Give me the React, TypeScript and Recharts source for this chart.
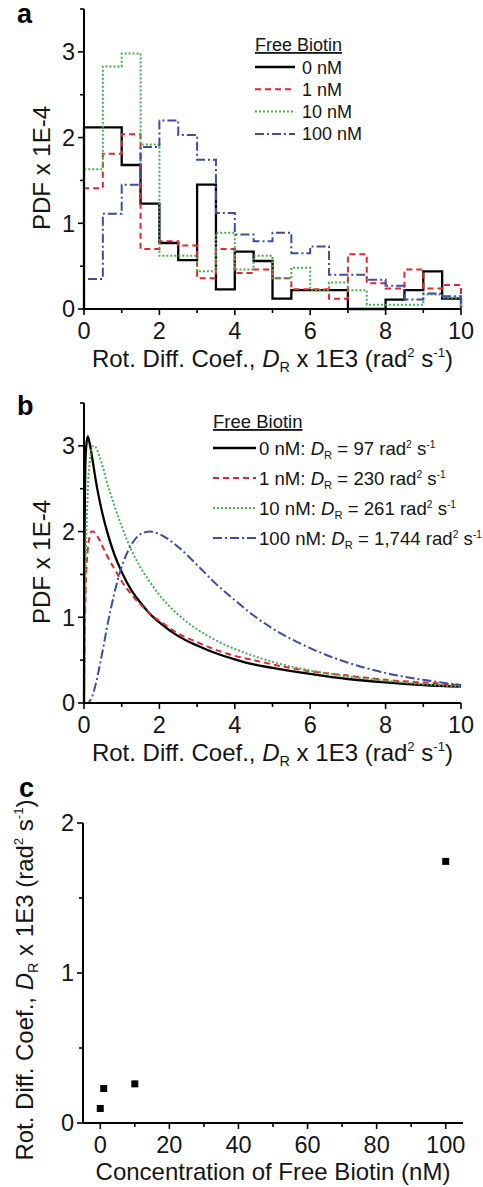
import React from 'react';
import { LineChart, Line, XAxis, YAxis, Legend, Label, ScatterChart, Scatter } from 'recharts';

const FONT = '"Liberation Sans", Arial, Helvetica, sans-serif';
const INK = '#151515';

// Free biotin concentrations (nM) and the fitted modal rotational diffusion coefficients (rad^2 s^-1)
const CONCENTRATIONS_NM = [0, 1, 10, 100];
const MODAL_DR = [97, 230, 261, 1744];

const SERIES_KEYS = ['c0', 'c1', 'c10', 'c100'];
const SERIES_COLORS = ['#000000', '#e4262e', '#45b04d', '#3b4ea2'];
const SERIES_DASH: (string | undefined)[] = [undefined, '6 4', '2 2', '9 3 2 3'];
const SERIES_WIDTH = [2.3, 2, 2, 2];

// Histogram of D_R (x 1E3 rad^2 s^-1), bins of width 0.5
const BIN_LEFT = [0, 0.5, 1, 1.5, 2, 2.5, 3, 3.5, 4, 4.5, 5, 5.5, 6, 6.5, 7, 7.5, 8, 8.5, 9, 9.5];
const BIN_END = 10;
const HIST_0NM = [2.12, 2.12, 1.68, 1.23, 0.77, 0.57, 1.45, 0.23, 0.67, 0.56, 0.12, 0.22, 0.22, 0.22, 0, 0, 0.11, 0.22, 0.44, 0.12];
const HIST_1NM = [1.41, 1.81, 2.04, 0.7, 0.79, 0.74, 0.36, 0.7, 0.42, 0.46, 0.36, 0.23, 0.23, 0.12, 0.64, 0.3, 0.24, 0.46, 0.24, 0.28];
const HIST_10NM = [1.63, 2.83, 2.98, 1.92, 0.62, 0.62, 0.44, 0.89, 0.46, 0.62, 0.36, 0.48, 0.22, 0.31, 0.22, 0.05, 0.05, 0.05, 0.17, 0.13];
const HIST_100NM = [0.35, 1.11, 1.45, 1.89, 2.2, 2.03, 1.74, 1.12, 0.87, 0.79, 0.89, 0.65, 0.73, 0.4, 0.4, 0.34, 0.27, 0.11, 0.18, 0.15];
const HISTS = [HIST_0NM, HIST_1NM, HIST_10NM, HIST_100NM];

// Fitted distributions, sampled along D_R (x 1E3 rad^2 s^-1)
const FIT_X = [0, 0.005, 0.01, 0.02, 0.05, 0.1, 0.15, 0.2, 0.25, 0.3, 0.4, 0.5, 0.6, 0.8, 1, 1.25, 1.5, 1.75, 2, 2.5, 3, 3.5, 4, 4.5, 5, 6, 7, 8, 9, 10];
const FIT_0NM = [0, 0.98, 1.58, 2.25, 2.94, 3.11, 3.03, 2.91, 2.77, 2.63, 2.39, 2.19, 2.02, 1.74, 1.53, 1.32, 1.17, 1.04, 0.94, 0.78, 0.67, 0.58, 0.51, 0.45, 0.41, 0.34, 0.28, 0.24, 0.21, 0.19];
const FIT_1NM = [0, 0.2, 0.43, 0.78, 1.39, 1.79, 1.94, 2.0, 2.0, 1.98, 1.91, 1.82, 1.73, 1.57, 1.42, 1.27, 1.15, 1.04, 0.96, 0.81, 0.71, 0.62, 0.55, 0.5, 0.45, 0.37, 0.32, 0.27, 0.24, 0.21];
const FIT_10NM = [0, 0.11, 0.32, 0.75, 1.69, 2.47, 2.81, 2.96, 3.0, 2.99, 2.89, 2.75, 2.59, 2.31, 2.06, 1.79, 1.58, 1.41, 1.26, 1.03, 0.86, 0.73, 0.63, 0.55, 0.48, 0.38, 0.31, 0.26, 0.22, 0.19];
const FIT_100NM = [0, 0, 0, 0, 0, 0, 0.02, 0.06, 0.12, 0.2, 0.4, 0.62, 0.86, 1.27, 1.59, 1.84, 1.97, 2.0, 1.97, 1.82, 1.61, 1.39, 1.2, 1.02, 0.87, 0.64, 0.47, 0.35, 0.27, 0.21];
const FITS = [FIT_0NM, FIT_1NM, FIT_10NM, FIT_100NM];

// Axis ticks
const PDF_X_MAJOR = [0, 2, 4, 6, 8, 10];
const PDF_X_MINOR = [1, 3, 5, 7, 9];
const PDF_Y_MAJOR = [0, 1, 2, 3];
const PDF_Y_MINOR = [0.5, 1.5, 2.5, 3.5];
const CONC_X_MAJOR = [0, 20, 40, 60, 80, 100];
const CONC_X_MINOR = [10, 30, 50, 70, 90];
const DR_Y_MAJOR = [0, 1, 2];
const DR_Y_MINOR = [0.5, 1.5];

const merge = (a: number[], b: number[]) => [...a, ...b].sort((p, q) => p - q);

// Step outline rows: rise from zero at the first edge, drop back to zero at the last edge
const histRows = (() => {
  const zero: Record<string, number> = {};
  SERIES_KEYS.forEach((k) => (zero[k] = 0));
  const rows: any[] = [{ x: BIN_LEFT[0], ...zero }];
  BIN_LEFT.forEach((x, i) => {
    const row: any = { x };
    SERIES_KEYS.forEach((k, s) => (row[k] = HISTS[s][i]));
    rows.push(row);
  });
  const last: any = { x: BIN_END };
  SERIES_KEYS.forEach((k, s) => (last[k] = HISTS[s][BIN_LEFT.length - 1]));
  rows.push(last, { x: BIN_END, ...zero });
  return rows;
})();

const fitRows = FIT_X.map((x, i) => {
  const row: any = { x };
  SERIES_KEYS.forEach((k, s) => (row[k] = FITS[s][i]));
  return row;
});

const drRows = CONCENTRATIONS_NM.map((c, i) => ({ c, dr: MODAL_DR[i] / 1000 }));

const TICK_SIZE = 23.5;
const TITLE_SIZE = 24;

const xTick = (major: number[]) => (p: any) => {
  const v = p.payload.value;
  const isMajor = major.includes(v);
  return (
    <g>
      <line x1={p.x} x2={p.x} y1={p.y} y2={p.y + (isMajor ? 6 : 4)} stroke="#000" strokeWidth={1.6} />
      {isMajor && (
        <text x={p.x} y={p.y + 30} textAnchor="middle" fontFamily={FONT} fontSize={TICK_SIZE} fill={INK}>
          {v}
        </text>
      )}
    </g>
  );
};

const yTick = (major: number[]) => (p: any) => {
  const v = p.payload.value;
  const isMajor = major.includes(v);
  return (
    <g>
      <line x1={p.x - (isMajor ? 6 : 4)} x2={p.x} y1={p.y} y2={p.y} stroke="#000" strokeWidth={1.6} />
      {isMajor && (
        <text x={p.x - 9} y={p.y} dy="0.36em" textAnchor="end" fontFamily={FONT} fontSize={TICK_SIZE} fill={INK}>
          {v}
        </text>
      )}
    </g>
  );
};

function DiffCoefTitle({ x, y, rotate }: { x: number; y: number; rotate?: boolean }) {
  const s = TITLE_SIZE;
  return (
    <text
      x={x}
      y={y}
      transform={rotate ? `rotate(-90 ${x} ${y})` : undefined}
      textAnchor="middle"
      fontFamily={FONT}
      fontSize={s}
      fill={INK}
    >
      Rot. Diff. Coef., <tspan fontStyle="italic">D</tspan>
      <tspan fontSize={s * 0.6} dy={s * 0.22}>R</tspan>
      <tspan dy={-s * 0.22}> x 1E3 (rad</tspan>
      <tspan fontSize={s * 0.55} dy={-s * 0.4}>2</tspan>
      <tspan dy={s * 0.4}> s</tspan>
      <tspan fontSize={s * 0.55} dy={-s * 0.4}>-1</tspan>
      <tspan dy={s * 0.4}>)</tspan>
    </text>
  );
}

function PdfTitle({ x, y }: { x: number; y: number }) {
  return (
    <text x={x} y={y} transform={`rotate(-90 ${x} ${y})`} textAnchor="middle" fontFamily={FONT} fontSize={TITLE_SIZE} fill={INK}>
      PDF x 1E-4
    </text>
  );
}

const axisLine = { stroke: '#000', strokeWidth: 2 };

function HistLegend() {
  const fs = 18;
  return (
    <svg width={200} height={120} style={{ display: 'block', overflow: 'visible' }}>
      <text x={5} y={21} fontFamily={FONT} fontSize={fs} fill={INK} textDecoration="underline">
        Free Biotin
      </text>
      {CONCENTRATIONS_NM.map((c, i) => {
        const y = 37 + i * 22.3;
        return (
          <g key={c}>
            <line x1={5} x2={45} y1={y} y2={y} stroke={SERIES_COLORS[i]} strokeDasharray={SERIES_DASH[i]} strokeWidth={SERIES_WIDTH[i]} />
            <text x={52} y={y + 6.5} fontFamily={FONT} fontSize={fs} fill={INK}>
              {c} nM
            </text>
          </g>
        );
      })}
    </svg>
  );
}

function FitLegend() {
  const fs = 18.6;
  return (
    <svg width={275} height={160} style={{ display: 'block', overflow: 'visible' }}>
      <text x={5} y={24} fontFamily={FONT} fontSize={18.5} fill={INK} textDecoration="underline">
        Free Biotin
      </text>
      {CONCENTRATIONS_NM.map((c, i) => {
        const y = 44 + i * 30;
        return (
          <g key={c}>
            <line x1={5} x2={48} y1={y} y2={y} stroke={SERIES_COLORS[i]} strokeDasharray={SERIES_DASH[i]} strokeWidth={SERIES_WIDTH[i]} />
            <text x={51} y={y + 7} fontFamily={FONT} fontSize={fs} fill={INK}>
              {c} nM: <tspan fontStyle="italic">D</tspan>
              <tspan fontSize={fs * 0.6} dy={4}>R</tspan>
              <tspan dy={-4}> = {MODAL_DR[i].toLocaleString('en-US')} rad</tspan>
              <tspan fontSize={fs * 0.55} dy={-7}>2</tspan>
              <tspan dy={7}> s</tspan>
              <tspan fontSize={fs * 0.55} dy={-7}>-1</tspan>
            </text>
          </g>
        );
      })}
    </svg>
  );
}

function PanelLetter({ letter, x, y }: { letter: string; x: number; y: number }) {
  return (
    <svg width={60} height={40} style={{ position: 'absolute', left: 0, top: 0, overflow: 'visible' }}>
      <text x={x} y={y} fontFamily={FONT} fontWeight="bold" fontSize={27} fill="#000">
        {letter}
      </text>
    </svg>
  );
}

const CHART_W = 483;

export default function App() {
  return (
    <div style={{ position: 'absolute', left: 0, top: 0, width: CHART_W, height: 1187, overflow: 'hidden', background: '#fff' }}>
      {/* a: histograms */}
      <div style={{ position: 'absolute', left: 0, top: 0 }}>
        <LineChart width={CHART_W} height={380} data={histRows} margin={{ top: 9, right: 22, bottom: 11, left: 0 }}>
          <XAxis
            dataKey="x"
            type="number"
            domain={[0, 10]}
            ticks={merge(PDF_X_MAJOR, PDF_X_MINOR)}
            interval={0}
            tickSize={0}
            tickMargin={0}
            tickLine={false}
            axisLine={axisLine}
            tick={xTick(PDF_X_MAJOR)}
            height={60}
          >
            <Label content={(p: any) => {
              const vb = p.viewBox ?? { x: 84, y: 309, width: 377 };
              return <DiffCoefTitle x={vb.x + vb.width / 2} y={vb.y + 57.5} />;
            }} />
          </XAxis>
          <YAxis
            type="number"
            domain={[0, 3.5]}
            ticks={merge(PDF_Y_MAJOR, PDF_Y_MINOR)}
            interval={0}
            tickSize={0}
            tickMargin={0}
            tickLine={false}
            axisLine={axisLine}
            tick={yTick(PDF_Y_MAJOR)}
            width={84}
          >
            <Label content={(p: any) => {
              const vb = p.viewBox ?? { y: 9, height: 300 };
              return <PdfTitle x={50} y={vb.y + vb.height / 2 + 9} />;
            }} />
          </YAxis>
          {SERIES_KEYS.map((k, i) => (
            <Line
              key={k}
              type="stepAfter"
              dataKey={k}
              name={`${CONCENTRATIONS_NM[i]} nM`}
              stroke={SERIES_COLORS[i]}
              strokeWidth={SERIES_WIDTH[i]}
              strokeDasharray={SERIES_DASH[i]}
              dot={false}
              activeDot={false}
              isAnimationActive={false}
            />
          ))}
          <Legend
            layout="vertical"
            align="center"
            verticalAlign="middle"
            content={() => <HistLegend />}
            wrapperStyle={{ left: 250, top: 30, width: 200, height: 120 }}
          />
        </LineChart>
        <PanelLetter letter="a" x={17} y={23} />
      </div>

      {/* b: fitted distributions */}
      <div style={{ position: 'absolute', left: 0, top: 394 }}>
        <LineChart width={CHART_W} height={380} data={fitRows} margin={{ top: 9, right: 22, bottom: 11, left: 0 }}>
          <XAxis
            dataKey="x"
            type="number"
            domain={[0, 10]}
            ticks={merge(PDF_X_MAJOR, PDF_X_MINOR)}
            interval={0}
            tickSize={0}
            tickMargin={0}
            tickLine={false}
            axisLine={axisLine}
            tick={xTick(PDF_X_MAJOR)}
            height={60}
          >
            <Label content={(p: any) => {
              const vb = p.viewBox ?? { x: 84, y: 309, width: 377 };
              return <DiffCoefTitle x={vb.x + vb.width / 2} y={vb.y + 57.5} />;
            }} />
          </XAxis>
          <YAxis
            type="number"
            domain={[0, 3.5]}
            ticks={merge(PDF_Y_MAJOR, PDF_Y_MINOR)}
            interval={0}
            tickSize={0}
            tickMargin={0}
            tickLine={false}
            axisLine={axisLine}
            tick={yTick(PDF_Y_MAJOR)}
            width={84}
          >
            <Label content={(p: any) => {
              const vb = p.viewBox ?? { y: 9, height: 300 };
              return <PdfTitle x={50} y={vb.y + vb.height / 2 + 9} />;
            }} />
          </YAxis>
          {SERIES_KEYS.map((k, i) => (
            <Line
              key={k}
              type="monotone"
              dataKey={k}
              name={`${CONCENTRATIONS_NM[i]} nM`}
              stroke={SERIES_COLORS[i]}
              strokeWidth={SERIES_WIDTH[i]}
              strokeDasharray={SERIES_DASH[i]}
              dot={false}
              activeDot={false}
              isAnimationActive={false}
            />
          ))}
          <Legend
            layout="vertical"
            align="center"
            verticalAlign="middle"
            content={() => <FitLegend />}
            wrapperStyle={{ left: 208, top: 10, width: 275, height: 160 }}
          />
        </LineChart>
        <PanelLetter letter="b" x={17} y={21} />
      </div>

      {/* c: modal D_R versus free biotin concentration */}
      <div style={{ position: 'absolute', left: 0, top: 770 }}>
        <ScatterChart width={CHART_W} height={417} margin={{ top: 53, right: 20, bottom: 4, left: 0 }}>
          <XAxis
            dataKey="c"
            type="number"
            domain={[-5, 105]}
            ticks={merge(CONC_X_MAJOR, CONC_X_MINOR)}
            interval={0}
            tickSize={0}
            tickMargin={0}
            tickLine={false}
            axisLine={axisLine}
            tick={xTick(CONC_X_MAJOR)}
            height={60}
          >
            <Label content={(p: any) => {
              const vb = p.viewBox ?? { x: 83, y: 353, width: 380 };
              return (
                <text x={vb.x + vb.width / 2} y={vb.y + 57} textAnchor="middle" fontFamily={FONT} fontSize={TITLE_SIZE} fill={INK}>
                  Concentration of Free Biotin (nM)
                </text>
              );
            }} />
          </XAxis>
          <YAxis
            dataKey="dr"
            type="number"
            domain={[0, 2]}
            ticks={merge(DR_Y_MAJOR, DR_Y_MINOR)}
            interval={0}
            tickSize={0}
            tickMargin={0}
            tickLine={false}
            axisLine={axisLine}
            tick={yTick(DR_Y_MAJOR)}
            width={83}
          >
            <Label content={(p: any) => {
              const vb = p.viewBox ?? { y: 53, height: 300 };
              return <DiffCoefTitle x={33} y={vb.y + vb.height / 2 + 7} rotate />;
            }} />
          </YAxis>
          <Scatter
            data={drRows}
            fill="#000"
            isAnimationActive={false}
            shape={(p: any) => <rect x={p.cx - 3.5} y={p.cy - 3.5} width={7} height={7} fill="#000" />}
          />
        </ScatterChart>
        <PanelLetter letter="c" x={19} y={27} />
      </div>
    </div>
  );
}
